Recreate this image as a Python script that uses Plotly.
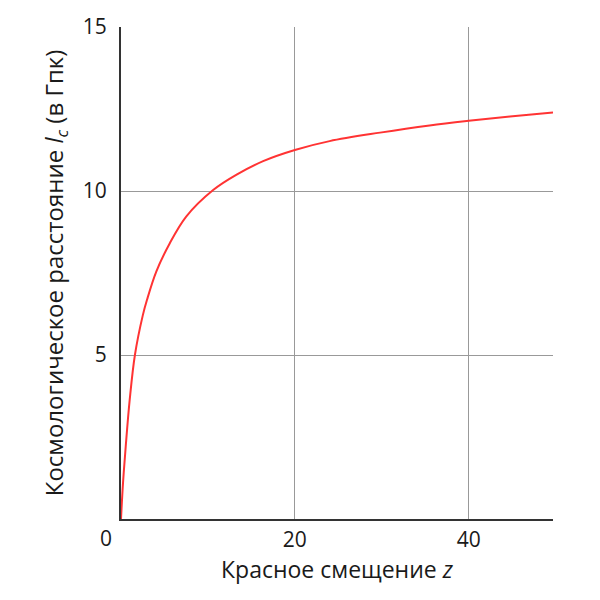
import plotly.graph_objects as go

# Redshift z and comoving distance l_c (Gpc)
redshift = [0, 0.23, 0.54, 1.0, 1.6, 2.5, 3.0, 4.07, 5.6, 7.5, 10.6, 13.3,
            16.35, 20, 24.0, 29.8, 35.5, 40, 44.75, 49.7]
distance = [0, 1.09, 2.2, 3.63, 5.0, 6.2, 6.69, 7.55, 8.4, 9.22, 10.03, 10.5,
            10.91, 11.25, 11.52, 11.78, 12.0, 12.14, 12.27, 12.39]

x_ticks = [20, 40]
y_ticks = [5, 10, 15]
y_grid = [5, 10]

FONT = "Open Sans"
TXT = "#1a1a1a"

fig = go.Figure()
fig.add_trace(go.Scatter(
    x=redshift, y=distance, mode="lines",
    line=dict(color="#ff3333", width=2, shape="spline", smoothing=1.0),
    showlegend=False, hoverinfo="skip",
))
# invisible helper trace so the grid-only overlay axis is drawn
fig.add_trace(go.Scatter(x=[None], y=[None], yaxis="y2", showlegend=False,
                         hoverinfo="skip"))

fig.update_layout(
    width=592, height=592,
    margin=dict(l=113, r=47, t=19, b=81),
    paper_bgcolor="white", plot_bgcolor="white",
    font=dict(family=FONT, size=20, color=TXT),
    xaxis=dict(
        range=[0, 49.7], tickmode="array", tickvals=x_ticks,
        ticktext=[str(v) for v in x_ticks],
        showgrid=True, gridcolor="#999999", gridwidth=1,
        showline=True, linecolor="#333333", linewidth=2,
        zeroline=False, ticks="", ticklabelstandoff=1, automargin=False,
        tickfont=dict(size=21),
        title=dict(text="Красное смещение <i>z</i>", standoff=8, font=dict(size=23)),
    ),
    yaxis=dict(
        range=[0, 15], tickmode="array", tickvals=y_ticks,
        ticktext=[str(v) for v in y_ticks],
        showgrid=False,
        showline=True, linecolor="#333333", linewidth=2,
        zeroline=False, ticks="", ticklabelstandoff=8, automargin=False,
        tickfont=dict(size=21),
        title=dict(text="Космологическое расстояние <i>l</i><sub><i>c</i></sub> (в Гпк)",
                   standoff=12, font=dict(size=24)),
    ),
    yaxis2=dict(
        range=[0, 15], overlaying="y", tickmode="array", tickvals=y_grid,
        showticklabels=False, showgrid=True, gridcolor="#999999", gridwidth=1,
        showline=False, zeroline=False, ticks="", automargin=False,
    ),
)

fig.add_annotation(x=0, y=0, xref="x", yref="y", text="0", showarrow=False,
                   xanchor="center", yanchor="top", xshift=-15, yshift=-3,
                   font=dict(family=FONT, size=21, color=TXT))

fig.write_html("out.html")
